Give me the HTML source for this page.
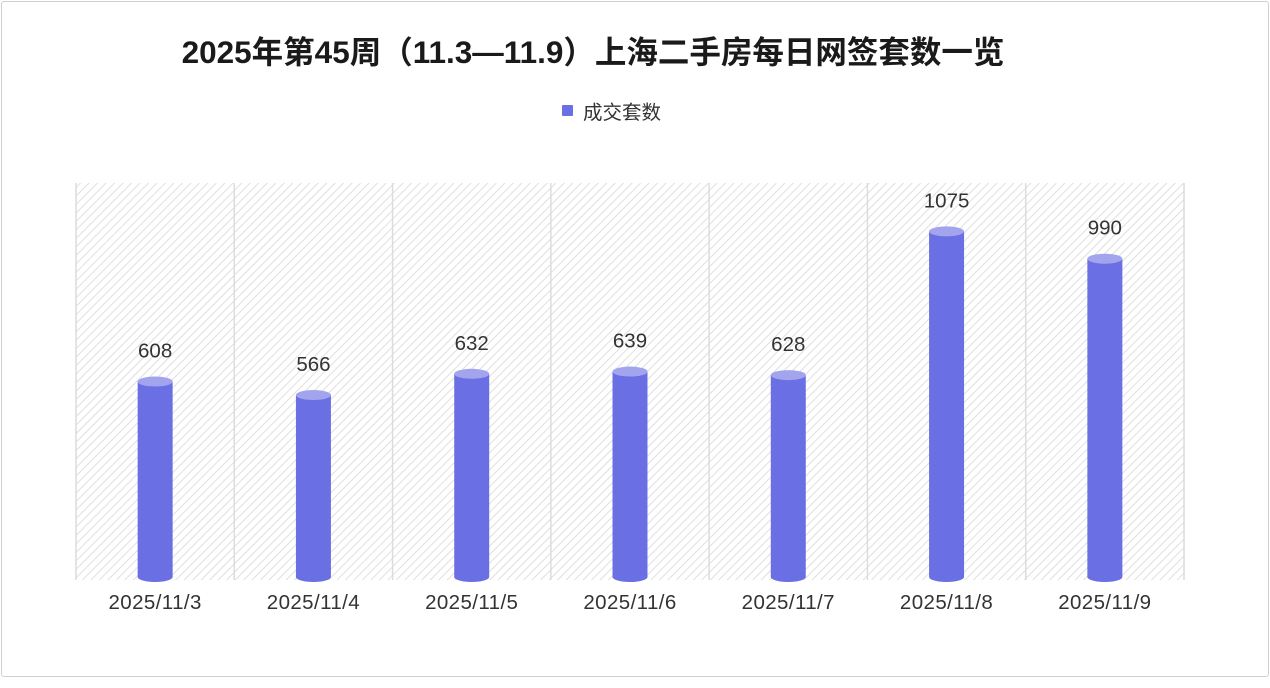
<!DOCTYPE html>
<html><head><meta charset="utf-8"><style>
html,body{margin:0;padding:0;background:#fff}
body{width:1270px;height:688px;overflow:hidden;font-family:"Liberation Sans","Noto Sans CJK SC",sans-serif}
.frame{position:absolute;left:1px;top:1px;width:1266px;height:674px;border:1px solid #d0d0d0;border-radius:3px}
</style></head><body>
<div class="frame"></div>
<svg id="chart" width="1270" height="688" style="position:absolute;left:0;top:0">
<defs>
<pattern id="hatch" width="6" height="6" patternUnits="userSpaceOnUse" patternTransform="rotate(45)">
<rect width="6" height="6" fill="#fff"/><line x1="0" y1="0" x2="0" y2="6" stroke="#d2d2d2" stroke-width="1.4"/>
</pattern>
</defs>
<text x="593" y="63" text-anchor="middle" font-size="31.5" font-weight="bold" fill="#1a1a1a">2025年第45周（11.3—11.9）上海二手房每日网签套数一览</text>
<g>
<rect x="562" y="105" width="11" height="11" rx="1" fill="#6a6fe3"/>
<text x="583" y="119" font-size="19.5" fill="#333">成交套数</text>
</g>
<g id="plot"></g>
</svg>
<script>
const categories=["2025/11/3","2025/11/4","2025/11/5","2025/11/6","2025/11/7","2025/11/8","2025/11/9"];
const values=[608,566,632,639,628,1075,990];
const valueLabels=["608","566","632","639","628","1075","990"];
const NS="http://www.w3.org/2000/svg";
const L=76,R=1184,T=183,B=577,barW=35;
const bw=(R-L)/categories.length;
const x=i=>L+bw*(i+0.5);
const y=v=>B-v*0.3215;
const g=document.getElementById('plot');
function mk(t,a){const e=document.createElementNS(NS,t);for(const k in a)e.setAttribute(k,a[k]);g.appendChild(e);return e;}
const bg=mk('rect',{x:L,y:T,width:R-L,height:B-T+3,fill:'url(#hatch)'});


for(let i=0;i<=categories.length;i++){
  const ln=mk('line',{x1:L+bw*i,x2:L+bw*i,y1:T,y2:B+3,stroke:'#dcdcdc','stroke-width':1.5});
  
  
}
categories.forEach((c,i)=>{
  const cx=x(i),top=y(values[i]);
  const body=mk('path',{d:`M${cx-barW/2},${top} L${cx-barW/2},${B} A${barW/2},5 0 0 0 ${cx+barW/2},${B} L${cx+barW/2},${top} Z`,fill:'#6a6fe3'});
  
  
  const cap=mk('ellipse',{cx:cx,cy:top,rx:barW/2,ry:5,fill:'#a2a5ee'});
  
  
  const vl=mk('text',{x:cx,y:top-24,'text-anchor':'middle','font-size':20.5,fill:'#333'});
  vl.textContent=valueLabels[i];
  
  
  const xl=mk('text',{x:cx,y:609,'text-anchor':'middle','font-size':20.5,fill:'#333','letter-spacing':'0.4'});
  xl.textContent=c;
  
  
});
</script>
</body></html>
